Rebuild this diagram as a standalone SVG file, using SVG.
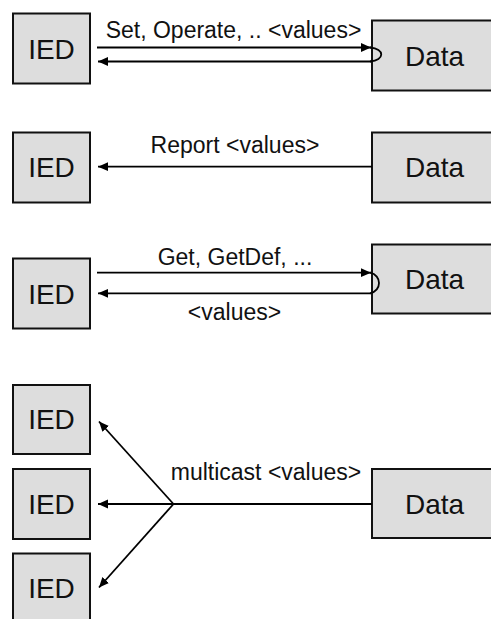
<svg xmlns="http://www.w3.org/2000/svg" width="491" height="619" viewBox="0 0 491 619">
<style>
.box{fill:#dddddd;stroke:#111;stroke-width:2}
.nt{font-family:"Liberation Sans",Arial,sans-serif;font-size:28px;fill:#111;text-anchor:middle}
.lt{font-family:"Liberation Sans",Arial,sans-serif;font-size:23px;fill:#111;text-anchor:middle}
.ln{fill:none;stroke:#000;stroke-width:1.8}
.arr{marker-end:url(#ah)}
</style>
<defs>
<marker id="ah" markerUnits="userSpaceOnUse" markerWidth="11" markerHeight="10" viewBox="0 0 11 10" refX="10" refY="5" orient="auto">
<path d="M0,0.6 L10,5 L0,9.4 z" fill="#000"/>
</marker>
</defs>
<rect width="491" height="619" fill="#fff"/>
<g id="ied1"><rect class="box" x="13" y="13.5" width="77" height="70"/><text class="nt" x="51.5" y="58.5">IED</text></g>
<g id="data1"><rect class="box" x="372" y="20.5" width="130" height="70"/><text class="nt" x="434.5" y="65.5">Data</text></g>
<g id="ied2"><rect class="box" x="13" y="132.5" width="77" height="70"/><text class="nt" x="51.5" y="177">IED</text></g>
<g id="data2"><rect class="box" x="372" y="132.5" width="130" height="70"/><text class="nt" x="434.5" y="177">Data</text></g>
<g id="ied3"><rect class="box" x="13" y="258.5" width="77" height="70"/><text class="nt" x="51.5" y="303.5">IED</text></g>
<g id="data3"><rect class="box" x="372" y="244.5" width="130" height="69"/><text class="nt" x="434.5" y="289">Data</text></g>
<g id="ied4"><rect class="box" x="13" y="385" width="77" height="69"/><text class="nt" x="51.5" y="429">IED</text></g>
<g id="ied5"><rect class="box" x="13" y="469" width="77" height="70"/><text class="nt" x="51.5" y="514">IED</text></g>
<g id="ied6"><rect class="box" x="13" y="553.5" width="77" height="70"/><text class="nt" x="51.5" y="598">IED</text></g>
<g id="data4"><rect class="box" x="372" y="469" width="130" height="69"/><text class="nt" x="434.5" y="513.5">Data</text></g>
<g id="connectors">
<line class="ln arr" x1="97" y1="47.5" x2="371" y2="47.5"/>
<path class="ln" d="M370,47.5 C385,49 385,60 370,61.5"/>
<line class="ln arr" x1="371" y1="61.5" x2="98" y2="61.5"/>
<line class="ln arr" x1="372" y1="166.7" x2="98" y2="166.7"/>
<line class="ln arr" x1="97" y1="272.7" x2="371" y2="272.7"/>
<path class="ln" d="M370,272.7 C382,275 382,291 370,293.3"/>
<line class="ln arr" x1="371" y1="293.3" x2="98" y2="293.3"/>
<line class="ln arr" x1="372" y1="504" x2="98" y2="504"/>
<line class="ln arr" x1="173.5" y1="504" x2="99" y2="421.5"/>
<line class="ln arr" x1="173.5" y1="504" x2="99" y2="587.5"/>
</g>
<g id="labels">
<text class="lt" x="233.5" y="37.5">Set, Operate, .. &lt;values&gt;</text>
<text class="lt" x="235" y="152.5">Report &lt;values&gt;</text>
<text class="lt" x="235" y="265">Get, GetDef, ...</text>
<text class="lt" x="234.5" y="319.5">&lt;values&gt;</text>
<text class="lt" x="266" y="480">multicast &lt;values&gt;</text>
</g>
</svg>
